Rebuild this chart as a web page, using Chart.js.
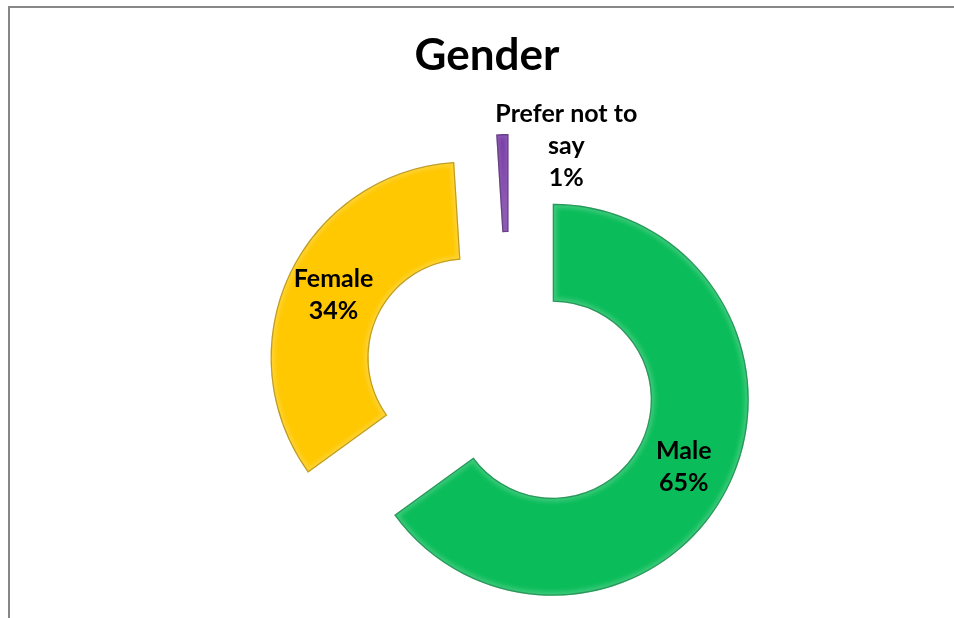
<!DOCTYPE html>
<html>
<head>
<meta charset="utf-8">
<title>Gender</title>
<script src="https://cdn.jsdelivr.net/npm/chart.js@4.4.1/dist/chart.umd.min.js"></script>
<style>
  html, body { margin: 0; padding: 0; background: #fff; overflow: hidden; }
  /* grey frame round the chart, its right and bottom sides run off the page */
  #frame { position: absolute; left: 8px; top: 6px; width: 1000px; height: 700px; border: 2px solid #878787; }
  #wrap { position: absolute; left: 0; top: 0; width: 954px; height: 760px; }
</style>
</head>
<body>
<div id="frame"></div>
<div id="wrap"><canvas id="genderChart"></canvas></div>
<script>
// survey answers, share of respondents in %
const chartTitle = 'Gender';
const categories = ['Male', 'Female', 'Prefer not to say'];
const percents = [65, 34, 1];
const sliceColors = ['#0BBD5A', '#FFC800', '#7030A0'];

const FONT = 'Lato, "Open Sans", sans-serif';
const EXPLODE = 48;      // how far each slice is pulled out of the ring
const LABEL_WIDTH = 150; // wrap width for the slice labels
const LINE_H = 32;

// split a label into lines no wider than maxWidth
function wrap(ctx, text, maxWidth) {
  const words = text.split(' ');
  const lines = [];
  let line = '';
  words.forEach(w => {
    const test = line ? line + ' ' + w : w;
    if (line && ctx.measureText(test).width > maxWidth) {
      lines.push(line);
      line = w;
    } else {
      line = test;
    }
  });
  lines.push(line);
  return lines;
}

function arcPath(ctx, a) {
  ctx.beginPath();
  ctx.arc(a.x, a.y, a.outerRadius, a.startAngle, a.endAngle);
  ctx.arc(a.x, a.y, a.innerRadius, a.endAngle, a.startAngle, true);
  ctx.closePath();
}

// draws every slice pushed out along its middle angle, with a soft bevel
const explodedSlices = {
  id: 'explodedSlices',
  beforeDatasetDraw(chart, args) {
    const ctx = chart.ctx;
    args.meta.data.forEach(arc => {
      const mid = (arc.startAngle + arc.endAngle) / 2;
      ctx.save();
      ctx.translate(Math.cos(mid) * EXPLODE, Math.sin(mid) * EXPLODE);
      arc.draw(ctx, chart.chartArea);

      // light band just inside the edge, dark rim on the edge
      ctx.save();
      arcPath(ctx, arc);
      ctx.clip();
      ctx.filter = 'blur(2px)';
      ctx.lineWidth = 8;
      ctx.strokeStyle = 'rgba(255,255,255,0.20)';
      ctx.stroke();
      ctx.filter = 'blur(0.6px)';
      ctx.lineWidth = 2.5;
      ctx.strokeStyle = 'rgba(0,0,0,0.25)';
      ctx.stroke();
      ctx.restore();

      ctx.restore();
    });
    return false;
  },
  afterDatasetsDraw(chart) {
    const ctx = chart.ctx;
    const meta = chart.getDatasetMeta(0);
    ctx.save();
    ctx.fillStyle = '#000';
    ctx.textAlign = 'center';

    // chart title
    ctx.font = 'bold 44px ' + FONT;
    ctx.textBaseline = 'alphabetic';
    ctx.fillText(chartTitle, 487, 70);

    // slice labels: name and share
    ctx.font = 'bold 25px ' + FONT;
    ctx.textBaseline = 'middle';
    meta.data.forEach((arc, i) => {
      const mid = (arc.startAngle + arc.endAngle) / 2;
      const dx = Math.cos(mid) * EXPLODE;
      const dy = Math.sin(mid) * EXPLODE;
      let x, y;
      if (percents[i] >= 5) {
        const c = arc.tooltipPosition();
        x = c.x + dx;
        y = c.y + dy;
      } else {
        // thin slice: label sits beside its outer tip
        x = arc.x + dx + Math.cos(mid) * arc.outerRadius + 64;
        y = arc.y + dy + Math.sin(mid) * arc.outerRadius + 12;
      }
      const lines = wrap(ctx, categories[i], LABEL_WIDTH);
      lines.push(percents[i] + '%');
      const top = y - (lines.length - 1) * LINE_H / 2;
      lines.forEach((t, k) => ctx.fillText(t, x, top + k * LINE_H));
    });
    ctx.restore();
  }
};

const ctx = document.getElementById('genderChart').getContext('2d');

const genderChart = new Chart(ctx, {
  type: 'doughnut',
  data: {
    labels: categories,
    datasets: [{
      data: percents,
      backgroundColor: sliceColors,
      borderWidth: 0,
      clip: false
    }]
  },
  options: {
    responsive: true,
    maintainAspectRatio: false,
    animation: false,
    events: [],
    radius: 196,
    cutout: '50%',
    layout: { padding: { top: 70, left: 66, right: 0, bottom: 74 } },
    plugins: {
      legend: { display: false },
      tooltip: { enabled: false },
      title: { display: false }
    }
  },
  plugins: [explodedSlices]
});
</script>
</body>
</html>
